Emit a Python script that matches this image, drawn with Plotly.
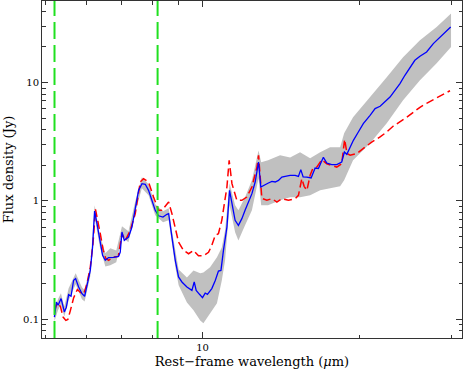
import plotly.graph_objects as go

# Rest-frame wavelength (micron) and flux density (Jy) for the model (blue)
wl_model = [5.197, 5.243, 5.283, 5.353, 5.383, 5.431, 5.479, 5.535, 5.594, 5.658,
            5.708, 5.785, 5.872, 5.940, 6.003, 6.091, 6.153, 6.207, 6.274, 6.346,
            6.431, 6.508, 6.603, 6.751, 6.902, 6.953, 7.006, 7.078, 7.213, 7.322,
            7.430, 7.539, 7.654, 7.766, 7.879, 7.998, 8.115, 8.234, 8.397, 8.546,
            8.61, 8.737, 8.867, 8.995, 9.131, 9.335, 9.543, 9.641, 9.725, 9.868,
            10.0, 10.12, 10.22, 10.42, 10.58, 10.73, 10.85, 10.97, 11.14, 11.27,
            11.39, 11.55, 11.72, 11.90, 12.07, 12.25, 12.44, 12.62, 12.81, 12.94,
            13.09, 13.38, 13.59, 13.79, 13.99, 14.20, 14.41, 14.73, 15.06, 15.28,
            15.44, 15.60, 15.86, 16.16, 16.45, 16.69, 17.06, 17.32, 17.70, 18.10,
            18.50, 18.72, 18.92, 19.48, 19.91, 20.35, 20.97, 21.44, 21.92, 22.40,
            22.90, 23.41, 23.93, 24.46, 25.01, 25.56, 26.14, 26.92, 27.73, 28.56,
            29.19, 29.94]
flux_model = [0.104, 0.139, 0.131, 0.149, 0.135, 0.115, 0.126, 0.161, 0.156, 0.213,
              0.220, 0.187, 0.164, 0.156, 0.193, 0.258, 0.407, 0.82, 0.641, 0.463,
              0.346, 0.314, 0.331, 0.333, 0.339, 0.369, 0.545, 0.463, 0.494, 0.600,
              0.887, 1.227, 1.398, 1.380, 1.227, 1.01, 0.831, 0.747, 0.729, 0.769,
              0.779, 0.494, 0.314, 0.227, 0.206, 0.187, 0.175, 0.206, 0.175, 0.162,
              0.152, 0.166, 0.162, 0.181, 0.212, 0.255, 0.258, 0.381, 0.600, 1.227,
              0.947, 0.684, 0.620, 0.707, 0.831, 0.977, 1.15, 1.443, 2.13, 1.309,
              1.352, 1.415, 1.462, 1.443, 1.490, 1.589, 1.611, 1.643, 1.643, 1.611,
              1.836, 1.596, 1.589, 1.56, 1.894, 1.873, 2.334, 2.088, 2.024, 2.024,
              2.13, 2.588, 2.473, 3.25, 3.82, 4.50, 5.29, 6.03, 6.30, 6.85,
              7.55, 8.61, 9.81, 11.53, 13.55, 15.44, 16.69, 18.15, 21.38, 24.32,
              26.79, 29.53]

# uncertainty band (grey)
wl_band = [5.20, 5.28, 5.35, 5.43, 5.535, 5.71, 5.87, 5.94, 6.09, 6.21,
           6.35, 6.51, 6.654, 6.832, 7.006, 7.21, 7.43, 7.65, 7.88, 8.115,
           8.40, 8.61, 8.74, 8.87, 9.00, 9.335, 9.61, 9.90, 10.04, 10.34,
           10.66, 10.89, 11.05, 11.27, 11.55, 11.72, 12.07, 12.44, 12.81, 12.96,
           13.36, 14.09, 14.73, 15.39, 16.09, 16.82, 17.57, 18.37, 18.70, 19.45,
           20.97, 22.57, 24.26, 26.14, 28.14, 29.99]
band_hi = [0.114, 0.147, 0.165, 0.128, 0.182, 0.244, 0.186, 0.175, 0.285, 0.916,
           0.521, 0.360, 0.397, 0.381, 0.609, 0.552, 0.99, 1.58, 1.38, 0.934,
           0.815, 0.864, 0.552, 0.367, 0.263, 0.225, 0.258, 0.244, 0.248, 0.274,
           0.333, 0.404, 0.563, 1.406, 0.916, 0.831, 1.07, 1.49, 2.67, 2.12,
           2.20, 2.43, 2.33, 2.57, 2.29, 2.57, 2.84, 2.84, 3.72, 5.09,
           7.51, 11.09, 16.37, 22.8, 29.5, 38.4]
band_lo = [0.0957, 0.119, 0.133, 0.105, 0.144, 0.197, 0.147, 0.141, 0.230, 0.725,
           0.412, 0.279, 0.285, 0.302, 0.491, 0.446, 0.80, 1.276, 1.114, 0.754,
           0.658, 0.684, 0.437, 0.274, 0.193, 0.138, 0.119, 0.0975, 0.092, 0.112,
           0.136, 0.212, 0.314, 0.916, 0.542, 0.463, 0.621, 0.831, 1.55, 0.916,
           0.916, 1.01, 1.07, 1.07, 1.114, 1.227, 1.276, 1.327, 1.49, 2.20,
           3.07, 4.53, 7.08, 10.45, 14.56, 20.0]

# observed spectrum (red dashed)
wl_obs = [5.204, 5.260, 5.337, 5.401, 5.467, 5.516, 5.577, 5.658, 5.753, 5.829,
          5.915, 6.003, 6.091, 6.164, 6.232, 6.281, 6.366, 6.450, 6.522, 6.603,
          6.751, 6.893, 7.006, 7.110, 7.269, 7.430, 7.596, 7.707, 7.879, 8.055,
          8.234, 8.358, 8.546, 8.61, 8.737, 8.867, 8.995, 9.196, 9.402, 9.610,
          9.824, 10.04, 10.27, 10.42, 10.58, 10.73, 10.89, 11.14, 11.25, 11.39,
          11.64, 11.90, 12.16, 12.44, 12.72, 12.81, 13.00, 13.29, 13.59, 13.89,
          14.20, 14.62, 15.06, 15.28, 15.43, 15.51, 15.67, 15.86, 16.09, 16.28,
          16.57, 16.94, 17.32, 17.70, 18.10, 18.50, 18.74, 18.94, 19.20, 19.77,
          20.35, 21.12, 21.92, 22.57, 23.21, 23.93, 24.66, 25.39, 26.14, 26.92,
          28.14, 28.97, 29.85]
flux_obs = [0.118, 0.138, 0.128, 0.104, 0.0975, 0.0994, 0.118, 0.151, 0.178, 0.168,
            0.163, 0.199, 0.275, 0.437, 0.848, 0.725, 0.528, 0.381, 0.326, 0.314,
            0.335, 0.339, 0.528, 0.463, 0.563, 0.779, 1.443, 1.541, 1.443, 1.077,
            0.831, 0.831, 0.947, 0.977, 0.779, 0.580, 0.448, 0.381, 0.357, 0.381,
            0.343, 0.343, 0.367, 0.420, 0.511, 0.528, 0.684, 1.309, 2.20, 1.398,
            1.01, 1.01, 1.077, 1.309, 1.93, 2.43, 1.05, 1.01, 1.044, 0.977,
            1.044, 1.01, 1.044, 1.113, 1.398, 1.541, 1.327, 1.227, 1.643, 1.873,
            1.93, 2.23, 2.06, 1.997, 1.93, 2.06, 3.31, 2.51, 2.43, 2.51,
            2.77, 3.14, 3.47, 3.82, 4.27, 4.64, 5.09, 5.61, 6.18, 6.68,
            7.44, 8.04, 8.53]

# green markers
vlines_wl = [5.2, 8.2]

x_ticks = [10]
x_minor = [5, 6, 7, 8, 9, 20, 30]
y_ticks = [0.1, 1, 10]
y_minor = [0.08, 0.09, 0.2, 0.3, 0.4, 0.5, 0.6, 0.7, 0.8, 0.9,
           2, 3, 4, 5, 6, 7, 8, 9, 20, 30, 40]

FONT = "DejaVu Serif"
AXIS_COLOR = "#333333"

fig = go.Figure()
fig.add_trace(go.Scatter(x=wl_band + wl_band[::-1], y=band_hi + band_lo[::-1],
                         fill="toself", fillcolor="#c0c0c0", line=dict(width=0),
                         mode="lines", hoverinfo="skip", showlegend=False))
fig.add_trace(go.Scatter(x=wl_obs, y=flux_obs, mode="lines", showlegend=False,
                         line=dict(color="#ff0000", width=1.5, dash="8px,4px")))
fig.add_trace(go.Scatter(x=wl_model, y=flux_model, mode="lines", showlegend=False,
                         line=dict(color="#0000ff", width=1.3)))

for v in vlines_wl:
    fig.add_vline(x=v, line=dict(color="#20e020", width=2, dash="17px,6px"))

fig.update_xaxes(type="log", range=[0.692, 1.498],
                 tickvals=x_ticks, ticktext=[str(t) for t in x_ticks],
                 ticks="inside", ticklen=6, tickcolor=AXIS_COLOR,
                 minor=dict(tickvals=x_minor, ticks="inside", ticklen=3.5, tickcolor=AXIS_COLOR),
                 showline=True, linecolor=AXIS_COLOR, linewidth=1, mirror="allticks",
                 showgrid=False, zeroline=False,
                 tickfont=dict(family=FONT, size=10, color="black"),
                 title=dict(text="Rest\u2212frame wavelength (<i>\u03bc</i>m)",
                            font=dict(family=FONT, size=13, color="black"), standoff=4))
fig.update_yaxes(type="log", range=[-1.16, 1.69],
                 tickvals=y_ticks, ticktext=["0.1", "1", "10"],
                 ticks="inside", ticklen=6, tickcolor=AXIS_COLOR,
                 minor=dict(tickvals=y_minor, ticks="inside", ticklen=3.5, tickcolor=AXIS_COLOR),
                 showline=True, linecolor=AXIS_COLOR, linewidth=1, mirror="allticks",
                 showgrid=False, zeroline=False,
                 tickfont=dict(family=FONT, size=10, color="black"),
                 title=dict(text="Flux density (Jy)",
                            font=dict(family=FONT, size=13, color="black"), standoff=6))

fig.update_layout(width=463, height=371, margin=dict(l=42, r=1, t=1, b=33),
                  plot_bgcolor="white", paper_bgcolor="white", showlegend=False)

# the page body has a default 8px margin; drop it so the figure fills the window
fig.write_html("out.html", config={"displayModeBar": False},
               post_script="document.body.style.margin='0';")
